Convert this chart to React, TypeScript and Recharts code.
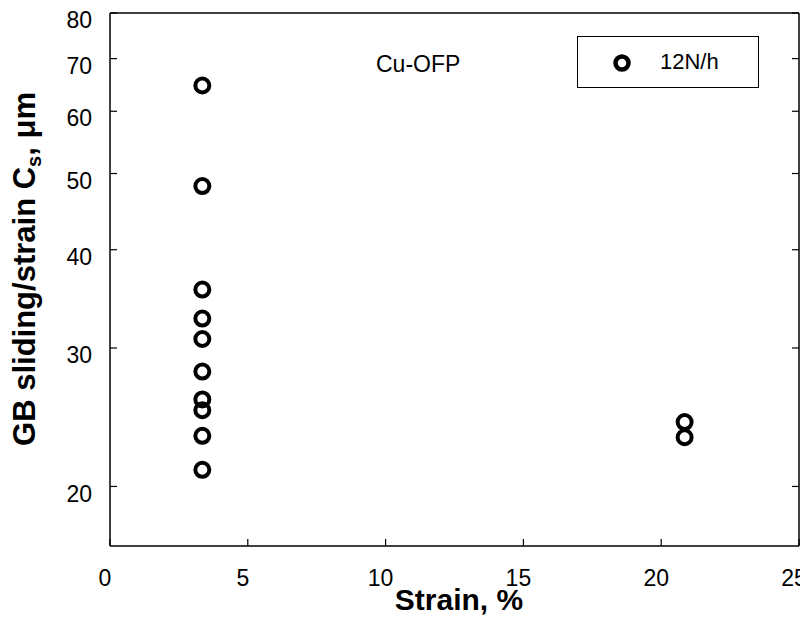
import { ScatterChart, Scatter, XAxis, YAxis, Legend } from "recharts"

const strainValues = [3.35, 3.35, 3.35, 3.35, 3.35, 3.35, 3.35, 3.35, 3.35, 3.35, 20.85, 20.85]
const slidingValues = [64.7, 48.2, 35.6, 32.7, 30.8, 28.0, 25.8, 25.0, 23.2, 21.0, 24.15, 23.1]
const xTicks = [0, 5, 10, 15, 20, 25]
const yTicks = [20, 30, 40, 50, 60, 70, 80]
const seriesName = "12N/h"
const annotation = "Cu-OFP"

const data = strainValues.map((strain, i) => ({ strain, cs: slidingValues[i] }))

const font = "Arial, 'Liberation Sans', sans-serif"
const axisLine = { stroke: "#000", strokeWidth: 1.5 }
const TICK_LEN = 7
const X_MARGIN = 24
const Y_MARGIN = 18

// bottom axis: label below, short tick pointing into the plot
const XTick = (props: any) => {
  const { x, y, payload } = props
  const axisY = y - X_MARGIN
  return (
    <g>
      <line x1={x} x2={x} y1={axisY} y2={axisY - TICK_LEN} stroke="#000" strokeWidth={1.2} />
      <text x={x - 5} y={y} dy="0.71em" textAnchor="middle" fontSize={23} fontFamily={font} fill="#000">
        {payload.value}
      </text>
    </g>
  )
}

const YTick = (props: any) => {
  const { x, y, payload } = props
  const axisX = x + Y_MARGIN
  return (
    <g>
      <line x1={axisX} x2={axisX + TICK_LEN} y1={y} y2={y} stroke="#000" strokeWidth={1.2} />
      <text x={x} y={y + 7} dy="0.355em" textAnchor="end" fontSize={23} fontFamily={font} fill="#000">
        {payload.value}
      </text>
    </g>
  )
}

const TopTick = (props: any) => {
  const { x, y } = props
  return <line x1={x} x2={x} y1={y} y2={y + TICK_LEN} stroke="#000" strokeWidth={1.2} />
}

const RightTick = (props: any) => {
  const { x, y } = props
  return <line x1={x} x2={x - TICK_LEN} y1={y} y2={y} stroke="#000" strokeWidth={1.2} />
}

const OpenCircle = (props: any) => {
  const { cx, cy } = props
  return <circle cx={cx} cy={cy} r={7} fill="none" stroke="#000" strokeWidth={4} />
}

const LegendBox = () => (
  <div
    style={{
      boxSizing: "border-box",
      width: 182,
      height: 52,
      border: "1.5px solid #000",
      position: "relative",
      fontFamily: font,
      fontSize: 22,
      background: "#fff",
    }}
  >
    <svg width={30} height={30} style={{ position: "absolute", left: 29, top: 11 }}>
      <circle cx={15} cy={15} r={6.5} fill="none" stroke="#000" strokeWidth={4.5} />
    </svg>
    <span style={{ position: "absolute", left: 82, top: 12, lineHeight: "26px" }}>{seriesName}</span>
  </div>
)

export default function App() {
  return (
    <ScatterChart width={800} height={616} margin={{ top: 4, right: 8, bottom: 18, left: 42 }}>
      <XAxis
        dataKey="strain"
        type="number"
        domain={[0, 25]}
        ticks={xTicks}
        interval={0}
        height={60}
        tickSize={0}
        tickMargin={X_MARGIN}
        tick={<XTick />}
        axisLine={axisLine}
        tickLine={false}
      />
      <XAxis
        xAxisId="top"
        orientation="top"
        type="number"
        domain={[0, 25]}
        ticks={xTicks}
        interval={0}
        height={1}
        tickSize={0}
        tickMargin={0}
        tick={<TopTick />}
        axisLine={axisLine}
        tickLine={false}
      />
      <YAxis
        dataKey="cs"
        type="number"
        scale="log"
        domain={[16.8, 80]}
        allowDataOverflow
        ticks={yTicks}
        interval={0}
        width={60}
        tickSize={0}
        tickMargin={Y_MARGIN}
        tick={<YTick />}
        axisLine={axisLine}
        tickLine={false}
      />
      <YAxis
        yAxisId="right"
        orientation="right"
        type="number"
        scale="log"
        domain={[16.8, 80]}
        allowDataOverflow
        ticks={yTicks}
        interval={0}
        width={1}
        tickSize={0}
        tickMargin={0}
        tick={<RightTick />}
        axisLine={axisLine}
        tickLine={false}
      />
      <Legend
        layout="vertical"
        verticalAlign="middle"
        align="center"
        content={<LegendBox />}
        wrapperStyle={{ position: "absolute", left: 569, top: 28, width: 182, height: 52, margin: 0 }}
      />
      <Scatter name={seriesName} data={data} shape={OpenCircle} isAnimationActive={false} />
      <text x={368} y={64} fontSize={23} fontFamily={font} fill="#000">
        {annotation}
      </text>
      <text x={451} y={602} textAnchor="middle" fontSize={30} fontWeight="bold" fontFamily={font} fill="#000">
        Strain, %
      </text>
      <text
        x={27}
        y={261}
        transform="rotate(-90 27 261)"
        textAnchor="middle"
        fontSize={31}
        fontWeight="bold"
        fontFamily={font}
        fill="#000"
      >
        GB sliding/strain C
        <tspan dy={6} fontSize={20}>s</tspan>
        <tspan dy={-6}>, μm</tspan>
      </text>
    </ScatterChart>
  )
}
